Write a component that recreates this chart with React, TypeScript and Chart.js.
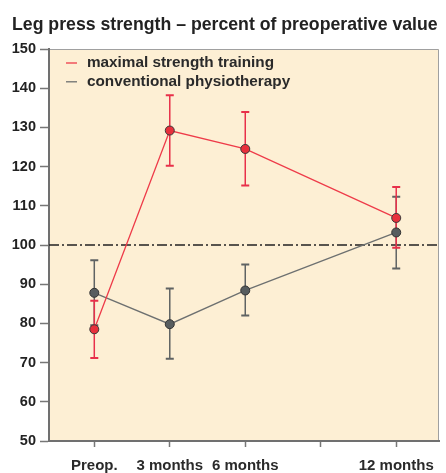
import React, { useEffect, useRef } from "react";
import { Chart, registerables } from "chart.js";

Chart.register(...registerables);

const titleText = "Leg press strength – percent of preoperative value";
const seriesNames = ["maximal strength training", "conventional physiotherapy"];
const months = [0, 3, 6, 12];
const tickMonths = [0, 3, 6, 9, 12];
const tickLabels = ["Preop.", "3 months", "6 months", "", "12 months"];
const strengthMean = [78.5, 129.2, 124.5, 106.9];
const strengthLow = [71.2, 120.2, 115.2, 99.3];
const strengthHigh = [85.8, 138.2, 133.9, 114.8];
const physioMean = [87.8, 79.8, 88.4, 103.2];
const physioLow = [79.5, 71.0, 82.0, 94.0];
const physioHigh = [96.1, 88.9, 95.0, 112.3];
const referenceValue = 100;

const RED = "#e8303c";
const RED_LINE = "#ee3b49";
const GRAY = "#575d5f";
const GRAY_LINE = "#6d7070";
const BG = "#fdefd4";
const FONT = "'Liberation Sans', Arial, Helvetica, sans-serif";

const errorSets = [
  { low: physioLow, high: physioHigh, color: "#5f6363" },
  { low: strengthLow, high: strengthHigh, color: "#e8304a" },
];

const decorPlugin = {
  id: "decor",
  beforeDraw(chart: any) {
    const { ctx, chartArea: a } = chart;
    ctx.save();
    ctx.fillStyle = "#ffffff";
    ctx.fillRect(0, 0, chart.width, chart.height);
    ctx.fillStyle = BG;
    ctx.fillRect(a.left, a.top, a.right - a.left, a.bottom - a.top);
    ctx.strokeStyle = "#a0a0a0";
    ctx.lineWidth = 1;
    ctx.beginPath();
    ctx.moveTo(a.left, a.top + 0.5);
    ctx.lineTo(a.right - 0.5, a.top + 0.5);
    ctx.lineTo(a.right - 0.5, a.bottom);
    ctx.stroke();
    // title
    ctx.fillStyle = "#222222";
    ctx.font = `bold 17.7px ${FONT}`;
    ctx.textBaseline = "middle";
    ctx.textAlign = "left";
    ctx.fillText(titleText, 12, 25);
    ctx.restore();
  },
  beforeDatasetsDraw(chart: any) {
    const { ctx, chartArea: a, scales } = chart;
    const x = scales.x;
    const y = scales.y;
    ctx.save();
    // reference line
    const yr = y.getPixelForValue(referenceValue);
    ctx.strokeStyle = "#222222";
    ctx.lineWidth = 1.3;
    ctx.setLineDash([10, 3, 2, 3]);
    ctx.beginPath();
    ctx.moveTo(a.left, yr);
    ctx.lineTo(a.right, yr);
    ctx.stroke();
    ctx.setLineDash([]);
    // error bars
    errorSets.forEach((s) => {
      ctx.strokeStyle = s.color;
      months.forEach((m, i) => {
        const px = x.getPixelForValue(m);
        const pl = y.getPixelForValue(s.low[i]);
        const ph = y.getPixelForValue(s.high[i]);
        ctx.lineWidth = 1.5;
        ctx.beginPath();
        ctx.moveTo(px, pl);
        ctx.lineTo(px, ph);
        ctx.stroke();
        ctx.lineWidth = 2;
        ctx.beginPath();
        ctx.moveTo(px - 4, pl);
        ctx.lineTo(px + 4, pl);
        ctx.moveTo(px - 4, ph);
        ctx.lineTo(px + 4, ph);
        ctx.stroke();
      });
    });
    ctx.restore();
  },
  afterDraw(chart: any) {
    const { ctx, chartArea: a } = chart;
    ctx.save();
    ctx.font = `bold 15.3px ${FONT}`;
    ctx.textBaseline = "middle";
    ctx.textAlign = "left";
    chart.data.datasets.forEach((ds: any, i: number) => {
      const yy = a.top + 14 + i * 18.8;
      ctx.strokeStyle = ds.borderColor;
      ctx.lineWidth = 1.3;
      ctx.beginPath();
      ctx.moveTo(a.left + 17, yy);
      ctx.lineTo(a.left + 28, yy);
      ctx.stroke();
      ctx.fillStyle = "#2a2a2a";
      ctx.fillText(ds.label, a.left + 38, yy);
    });
    ctx.restore();
  },
};

export default function App() {
  const ref = useRef<HTMLCanvasElement | null>(null);
  useEffect(() => {
    if (!ref.current) return;
    const chart = new Chart(ref.current, {
      type: "line",
      data: {
        datasets: [
          {
            label: seriesNames[0],
            data: months.map((m, i) => ({ x: m, y: strengthMean[i] })),
            borderColor: RED_LINE,
            backgroundColor: RED,
            borderWidth: 1.3,
            pointRadius: 4.5,
            pointBorderColor: "#3a3a3a",
            pointBackgroundColor: RED,
            pointBorderWidth: 1,
            tension: 0,
          },
          {
            label: seriesNames[1],
            data: months.map((m, i) => ({ x: m, y: physioMean[i] })),
            borderColor: GRAY_LINE,
            backgroundColor: GRAY,
            borderWidth: 1.3,
            pointRadius: 4.5,
            pointBorderColor: "#333333",
            pointBackgroundColor: GRAY,
            pointBorderWidth: 1,
            tension: 0,
          },
        ],
      },
      options: {
        animation: false,
        responsive: false,
        layout: { padding: { top: 49, right: 7, left: 0, bottom: 0 } },
        plugins: {
          legend: { display: false },
          title: { display: false },
          tooltip: { enabled: false },
        },
        scales: {
          x: {
            type: "linear",
            min: -1.8,
            max: 13.7,
            afterBuildTicks: (s: any) => {
              s.ticks = tickMonths.map((v) => ({ value: v }));
            },
            afterFit: (s: any) => {
              s.height = 32;
            },
            ticks: {
              autoSkip: false,
              maxRotation: 0,
              padding: 10,
              color: "#2a2a2a",
              font: { family: FONT, size: 15, weight: "bold" },
              callback: (_v: any, i: number) => tickLabels[i],
            },
            grid: {
              drawOnChartArea: false,
              tickLength: 6,
              tickColor: "#777777",
              tickWidth: 1.5,
            },
            border: { color: "#707070", width: 2 },
          },
          y: {
            min: 50,
            max: 150,
            afterFit: (s: any) => {
              s.width = 49;
            },
            ticks: {
              stepSize: 10,
              padding: 4,
              color: "#222222",
              font: { family: FONT, size: 14.5, weight: "bold" },
            },
            grid: {
              drawOnChartArea: false,
              tickLength: 9,
              tickColor: "#777777",
              tickWidth: 1.5,
            },
            border: { color: "#707070", width: 2 },
          },
        },
      },
      plugins: [decorPlugin],
    } as any);
    return () => chart.destroy();
  }, []);
  return (
    <div style={{ position: "absolute", left: 0, top: 0, width: 446, height: 473 }}>
      <canvas ref={ref} width={446} height={473} style={{ width: 446, height: 473 }} />
    </div>
  );
}
